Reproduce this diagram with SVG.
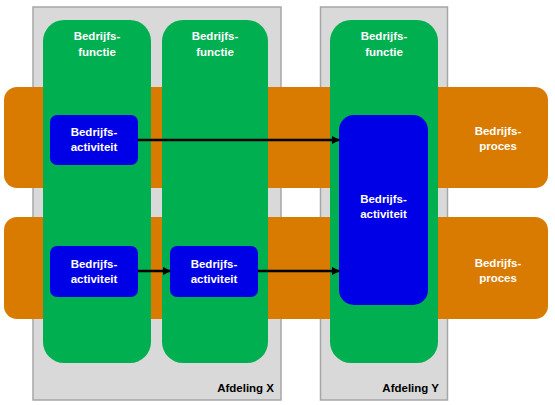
<svg xmlns="http://www.w3.org/2000/svg" width="555" height="405" viewBox="0 0 555 405">
<defs>
<style>
.dept{fill:#d9d9d9;stroke:#a6a6a6;stroke-width:1.5}
.proc{fill:#d97b00}
.func{fill:#00b050}
.act{fill:#0000e6}
.t{font-family:"Liberation Sans",Arial,sans-serif;font-weight:bold;font-size:11.5px;fill:#ffffff;text-anchor:middle}
.lbl{font-family:"Liberation Sans",Arial,sans-serif;font-weight:bold;font-size:11.5px;fill:#000000;text-anchor:end}
.conn{stroke:#000000;stroke-width:2.5;fill:none;marker-end:url(#ah)}
</style>
<marker id="ah" markerWidth="9" markerHeight="9" refX="7" refY="4.5" orient="auto" markerUnits="userSpaceOnUse">
<path d="M0,0.5 L8,4.5 L0,8.5 Z" fill="#000000"/>
</marker>
</defs>
<g id="afdeling-x"><rect class="dept" x="33" y="7" width="248" height="393"/><text class="lbl" x="274" y="392">Afdeling X</text></g>
<g id="afdeling-y"><rect class="dept" x="320.5" y="7" width="127" height="393"/><text class="lbl" x="439" y="392">Afdeling Y</text></g>
<g id="proces-1"><rect class="proc" x="4" y="87" width="544" height="101" rx="13"/><text class="t" x="498" y="135">Bedrijfs-</text><text class="t" x="498" y="150">proces</text></g>
<g id="proces-2"><rect class="proc" x="4" y="217" width="544" height="102" rx="13"/><text class="t" x="498" y="267">Bedrijfs-</text><text class="t" x="498" y="282">proces</text></g>
<g id="functie-1"><rect class="func" x="43" y="20" width="108" height="343" rx="21"/><text class="t" x="97" y="40">Bedrijfs-</text><text class="t" x="97" y="55.5">functie</text></g>
<g id="functie-2"><rect class="func" x="162" y="20" width="106" height="343" rx="21"/><text class="t" x="215" y="40">Bedrijfs-</text><text class="t" x="215" y="55.5">functie</text></g>
<g id="functie-3"><rect class="func" x="330" y="20" width="108" height="343" rx="21"/><text class="t" x="384" y="40">Bedrijfs-</text><text class="t" x="384" y="55.5">functie</text></g>
<g id="activiteit-1"><rect class="act" x="50" y="115" width="88" height="50" rx="7"/><text class="t" x="94" y="136">Bedrijfs-</text><text class="t" x="94" y="151">activiteit</text></g>
<g id="activiteit-2"><rect class="act" x="50" y="246" width="88" height="51" rx="7"/><text class="t" x="94" y="267.5">Bedrijfs-</text><text class="t" x="94" y="282.5">activiteit</text></g>
<g id="activiteit-3"><rect class="act" x="170" y="246" width="88" height="51" rx="7"/><text class="t" x="214" y="267.5">Bedrijfs-</text><text class="t" x="214" y="282.5">activiteit</text></g>
<g id="activiteit-4"><rect class="act" x="339" y="115" width="89" height="190" rx="15"/><text class="t" x="383.5" y="203">Bedrijfs-</text><text class="t" x="383.5" y="218">activiteit</text></g>
<g id="connectors">
<line class="conn" x1="138" y1="140" x2="339" y2="140"/>
<line class="conn" x1="138" y1="271" x2="170" y2="271"/>
<line class="conn" x1="258" y1="271" x2="339" y2="271"/>
</g>
</svg>
